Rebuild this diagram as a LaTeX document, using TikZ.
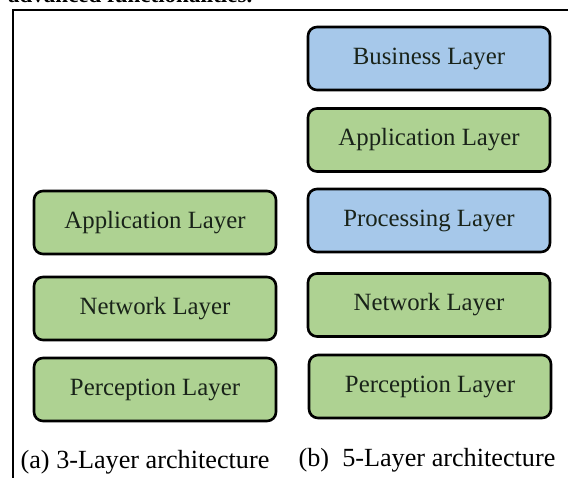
\documentclass[tikz,border=0pt]{standalone}
\usepackage{fontspec}
\setmainfont{Liberation Serif}
\usepackage{xcolor}
\definecolor{layergreen}{RGB}{174,210,146}
\definecolor{layerblue}{RGB}{166,200,234}
\definecolor{layertext}{RGB}{25,35,25}

\begin{document}
\begin{tikzpicture}[x=1pt,y=1pt,font=\fontsize{24.8}{28}\selectfont,
    layer/.style={draw=black,line width=2.6pt,rounded corners=9pt,minimum width=242pt,minimum height=63pt,inner sep=0pt,text=layertext},
    greenlayer/.style={layer,fill=layergreen},
    bluelayer/.style={layer,fill=layerblue},
    caption/.style={font=\fontsize{26.2}{30}\selectfont,inner sep=0pt}]
                \clip (0,0) rectangle (568,477);
                \fill[white] (0,0) rectangle (568,477);
                \node[anchor=base west,inner sep=0pt,font=\fontsize{23}{26}\selectfont\bfseries] (head) at (8,474) {advanced functionalities.};
                \draw[line width=2.2pt] (13,-5)--(13,467)--(575,467);
                % (a) three layers
                \node[greenlayer] (appA) at (155,254.5) {Application Layer};
                \node[greenlayer] (netA) at (155,168.5) {Network Layer};
                \node[greenlayer] (perA) at (155,87.5) {Perception Layer};
                \node[caption] (capA) at (145,15) {(a) 3-Layer architecture};
                % (b) five layers
                \node[bluelayer] (busB) at (429,418.5) {Business Layer};
                \node[greenlayer] (appB) at (429,337) {Application Layer};
                \node[bluelayer] (proB) at (429,256.5) {Processing Layer};
                \node[greenlayer] (netB) at (429,172) {Network Layer};
                \node[greenlayer] (perB) at (430,90.5) {Perception Layer};
                \node[caption] (capB) at (427,17) {(b)\ \ 5-Layer architecture};
            \end{tikzpicture}
\end{document}
